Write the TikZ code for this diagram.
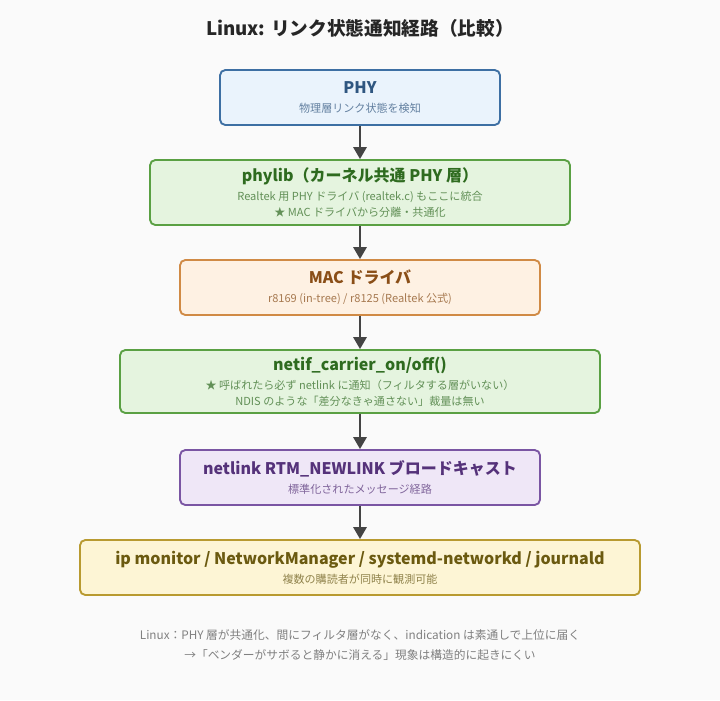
\documentclass[tikz,border=0pt]{standalone}
\usepackage{fontspec}
\setmainfont{Noto Sans CJK JP}
\usetikzlibrary{positioning,arrows.meta}
\definecolor{bgc}{HTML}{FAFAFA}
\definecolor{arrc}{HTML}{444444}
\definecolor{phyf}{HTML}{EAF3FC}\definecolor{phyd}{HTML}{3D6FA3}\definecolor{phyt}{HTML}{2F5680}
\definecolor{grnf}{HTML}{E5F4DF}\definecolor{grnd}{HTML}{5AA043}\definecolor{grnt}{HTML}{2E6B1F}
\definecolor{orgf}{HTML}{FEF1E3}\definecolor{orgd}{HTML}{D08A45}\definecolor{orgt}{HTML}{8A4E17}
\definecolor{purf}{HTML}{EFE7F7}\definecolor{purd}{HTML}{7A55A3}\definecolor{purt}{HTML}{55327A}
\definecolor{yelf}{HTML}{FDF5D5}\definecolor{yeld}{HTML}{B89A30}\definecolor{yelt}{HTML}{6B5A10}
\newcommand{\sub}[2]{\fontsize{8.3}{10.5}\selectfont\mdseries\color{#1!75!white}#2}
\newcommand{\layer}[3]{\fontsize{12}{14}\selectfont\bfseries #2\\[2pt]\sub{#1}{#3}}
\newcommand{\layerii}[4]{\fontsize{12}{14}\selectfont\bfseries #2\\[2pt]\sub{#1}{#3}\\\sub{#1}{#4}}
\tikzset{
  layerbox/.style={draw=#1d, fill=#1f, text=#1t, line width=1.4pt, rounded corners=4pt,
    align=center, inner sep=0pt},
  flow/.style={-{Triangle[length=9pt,width=10pt]}, draw=arrc, line width=1.6pt}
}
\begin{document}
\begin{tikzpicture}[x=0.75pt,y=-0.75pt]
\fill[bgc] (0,0) rectangle (720,700);
\useasboundingbox (0,0) rectangle (720,700);
\node[font=\fontsize{14}{17}\selectfont\bfseries, text=black!85] (title) at (360,28) {Linux: リンク状態通知経路（比較）};
% layers
\node[layerbox=phy, minimum width=210pt, minimum height=41.25pt] (phy) at (360,97.5)
  {\layer{phyt}{PHY}{物理層リンク状態を検知}};
\node[layerbox=grn, minimum width=315pt, minimum height=48.75pt] (phylib) at (360,192.5)
  {\layerii{grnt}{phylib（カーネル共通 PHY 層）}{Realtek 用 PHY ドライバ (realtek.c) もここに統合}{★ MAC ドライバから分離・共通化}};
\node[layerbox=org, minimum width=270pt, minimum height=41.25pt] (mac) at (360,287.5)
  {\layer{orgt}{MAC ドライバ}{r8169 (in-tree) / r8125 (Realtek 公式)}};
\node[layerbox=grn, minimum width=360pt, minimum height=47.25pt] (carrier) at (360,381.5)
  {\layerii{grnt}{netif\_carrier\_on/off()}{★ 呼ばれたら必ず netlink に通知（フィルタする層がいない）}{NDIS のような「差分なきゃ通さない」裁量は無い}};
\node[layerbox=pur, minimum width=270pt, minimum height=41.25pt] (netlink) at (360,477.5)
  {\layer{purt}{netlink RTM\_NEWLINK ブロードキャスト}{標準化されたメッセージ経路}};
\node[layerbox=yel, minimum width=420pt, minimum height=41.25pt] (users) at (360,567.5)
  {\layer{yelt}{ip monitor / NetworkManager / systemd-networkd / journald}{複数の購読者が同時に観測可能}};
% arrows
\draw[flow] (phy) -- (phylib);
\draw[flow] (phylib) -- (mac);
\draw[flow] (mac) -- (carrier);
\draw[flow] (carrier) -- (netlink);
\draw[flow] (netlink) -- (users);
\node[align=center, text=black!50, font=\fontsize{8.8}{15.5}\selectfont] (note) at (360,645)
  {Linux：PHY 層が共通化、間にフィルタ層がなく、indication は素通しで上位に届く\\→「ベンダーがサボると静かに消える」現象は構造的に起きにくい};
\end{tikzpicture}
\end{document}
